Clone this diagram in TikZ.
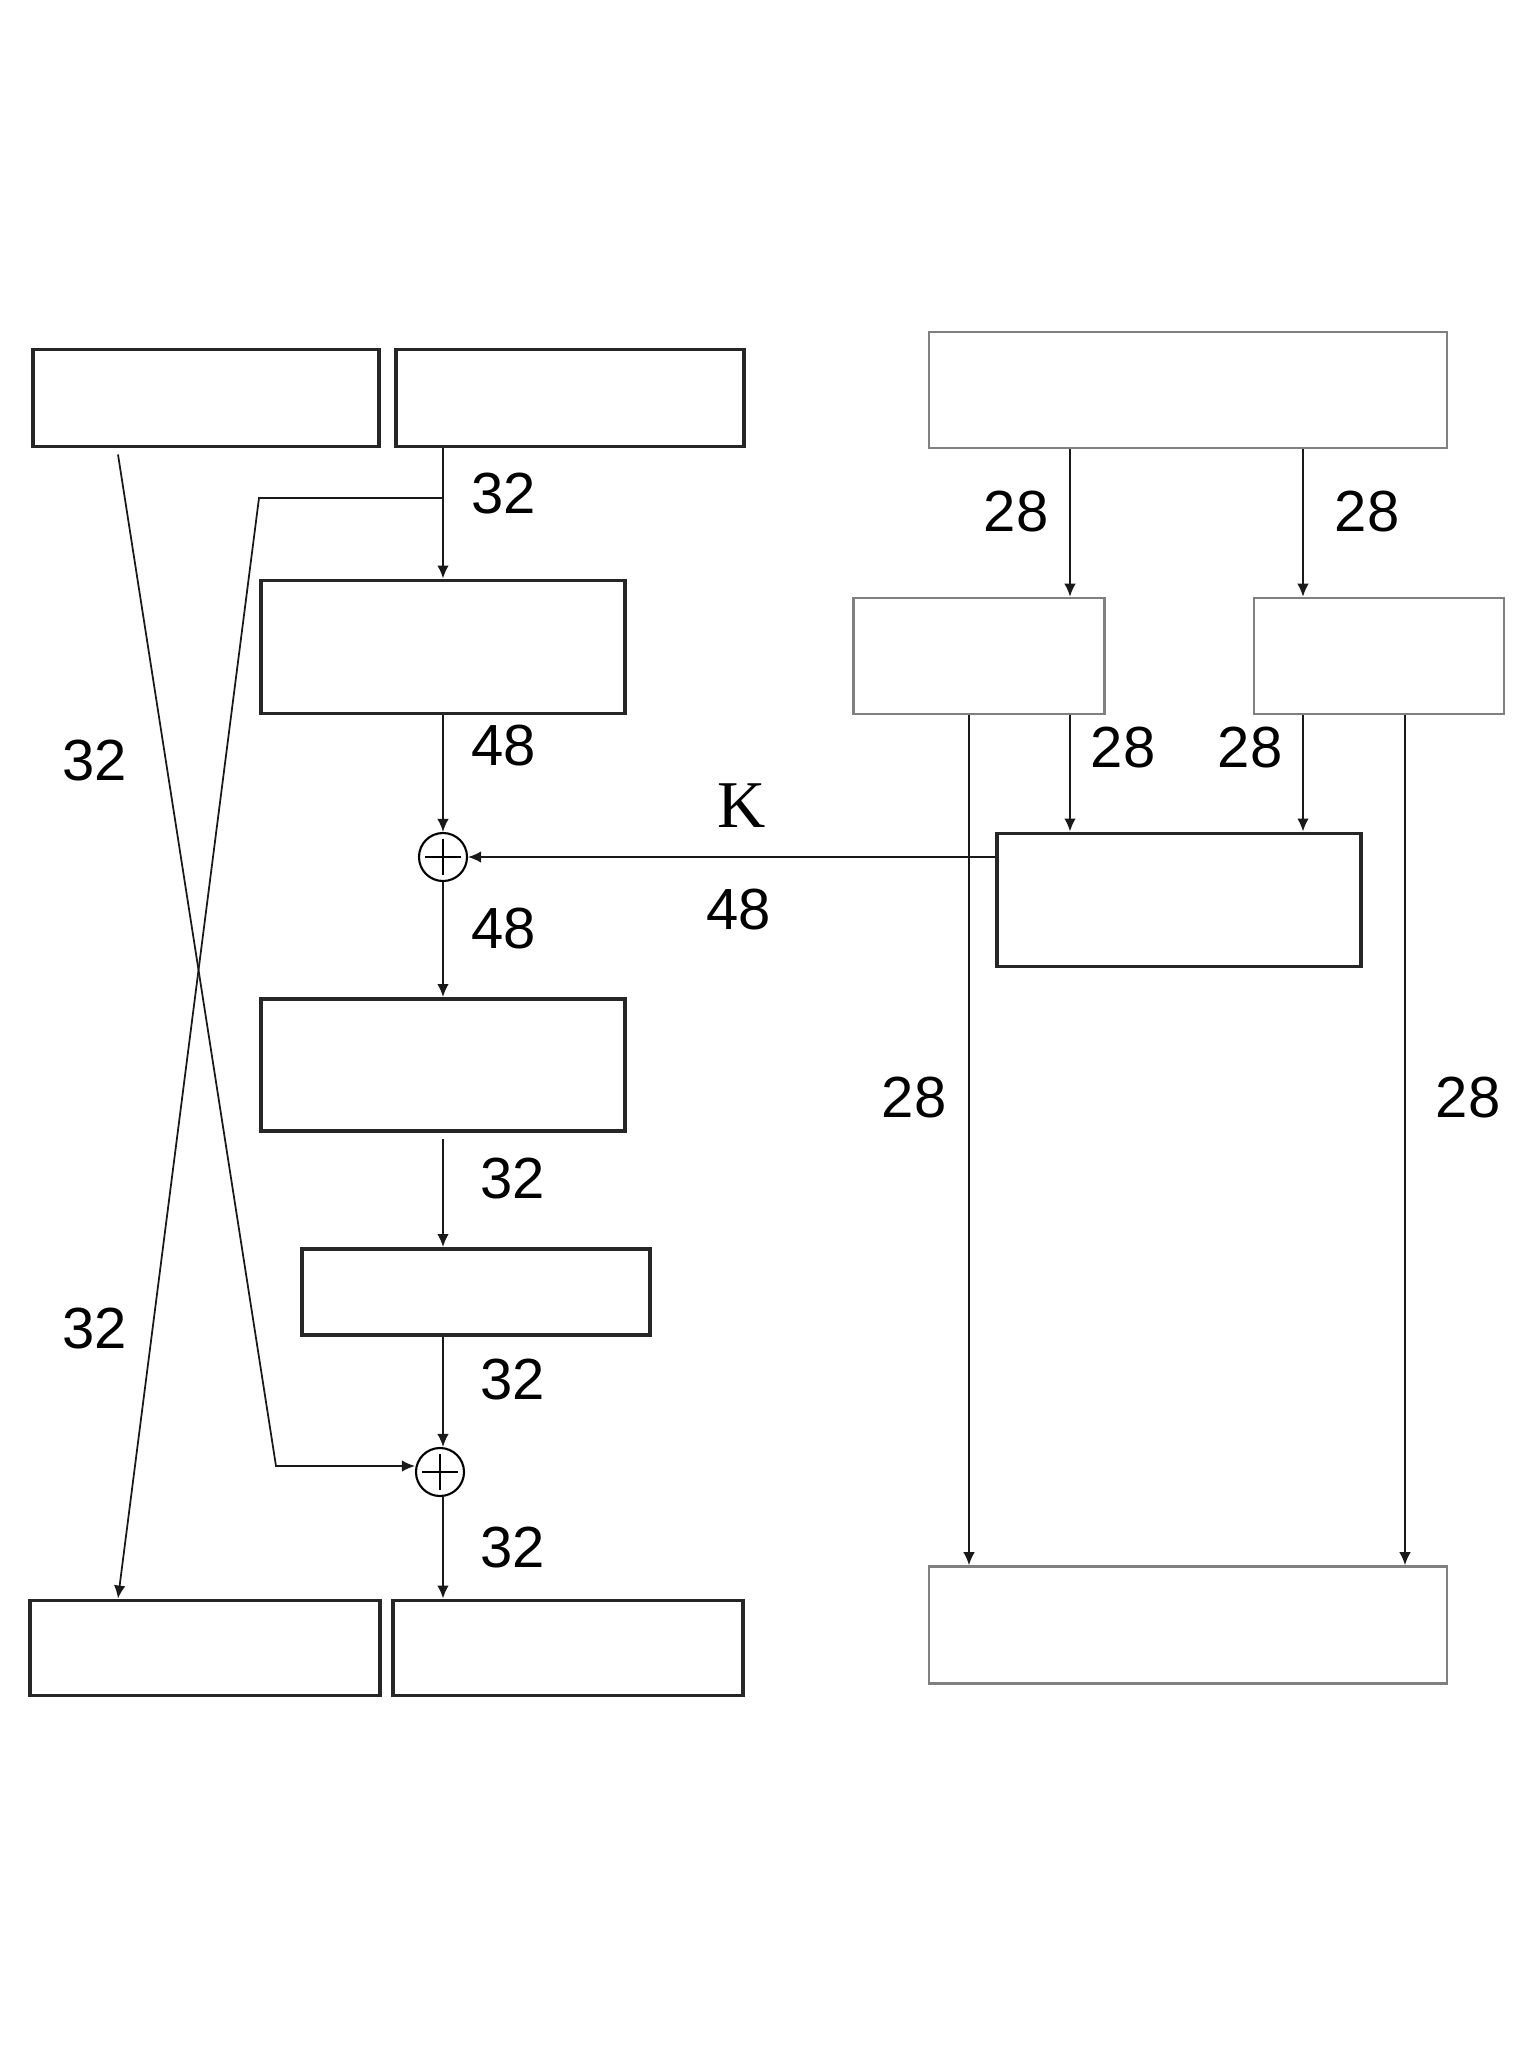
\documentclass[tikz,border=0pt]{standalone}
\usepackage{fontspec}
\setmainfont{Liberation Sans}
\newfontfamily\serifk{Liberation Serif}
\usetikzlibrary{arrows.meta}

\tikzset{
  box/.style={draw=black!85, line width=1.1pt, inner sep=0pt},
  gbox/.style={draw=black!50, line width=0.7pt, inner sep=0pt},
  xor/.style={draw, circle, line width=0.6pt, minimum size=0.48cm, inner sep=0pt,
    path picture={\draw[line width=0.6pt]
      ([yshift=-0.06cm]path picture bounding box.north) -- ([yshift=0.06cm]path picture bounding box.south)
      ([xshift=0.06cm]path picture bounding box.west) -- ([xshift=-0.06cm]path picture bounding box.east);}},
  lab/.style={inner sep=0pt, font=\fontsize{16.5}{18}\selectfont},
  arr/.style={-{Latex[length=1.3mm,width=1.15mm]}, line width=0.5pt, black!90},
}

\begin{document}
\begin{tikzpicture}[x=0.01cm, y=-0.01cm]
\useasboundingbox (0,0) rectangle (1536,2048);
% round function
\node[box, minimum width=3.46cm, minimum height=0.97cm] (l0) at (206,398) {};
\node[box, minimum width=3.47cm, minimum height=0.97cm] (r0) at (570,398) {};
\node[box, minimum width=3.63cm, minimum height=1.33cm] (ex) at (443,647) {};
\node[xor] (x1) at (443,857) {};
\node[box, minimum width=3.63cm, minimum height=1.32cm] (sb) at (443,1065) {};
\node[box, minimum width=3.48cm, minimum height=0.86cm] (pm) at (476,1292) {};
\node[xor] (x2) at (440,1472) {};
\node[box, minimum width=3.49cm, minimum height=0.95cm] (l1) at (205,1648) {};
\node[box, minimum width=3.49cm, minimum height=0.95cm] (r1) at (568,1648) {};
% key schedule
\node[gbox, minimum width=5.18cm, minimum height=1.16cm] (key) at (1188,390) {};
\node[gbox, minimum width=2.51cm, minimum height=1.16cm] (c0) at (979,656) {};
\node[gbox, minimum width=2.50cm, minimum height=1.16cm] (d0) at (1379,656) {};
\node[box, minimum width=3.63cm, minimum height=1.33cm] (pc) at (1179,900) {};
\node[gbox, minimum width=5.18cm, minimum height=1.17cm] (key1) at (1188,1625) {};

\coordinate (sp) at (443,498);
\coordinate (b1) at (259,498);
\coordinate (b2) at (276,1466);
\coordinate (lx) at (118,0);
\coordinate (cx1) at (1070,0);
\coordinate (dx1) at (1303,0);
\coordinate (cx2) at (969,0);
\coordinate (dx2) at (1405,0);

\draw[arr] (ex.north |- r0.south) -- (ex.north);
\draw[arr] (ex.south) -- (x1.north);
\draw[arr] (x1.south) -- (sb.north);
\draw[arr] ([yshift=-0.06cm]sb.south) -- (sb.south |- pm.north);
\draw[arr] (sb.south |- pm.south) -- (sb.south |- x2.north);
\draw[arr] (sb.south |- x2.south) -- (sb.south |- r1.north);
\draw[arr] (sp) -- (b1) -- (lx |- l1.north);
\draw[arr] ([yshift=-0.06cm]lx |- l0.south) -- (b2) -- (x2.west |- b2);

\draw[arr] (cx1 |- key.south) -- (cx1 |- c0.north);
\draw[arr] (dx1 |- key.south) -- (dx1 |- d0.north);
\draw[arr] (cx1 |- c0.south) -- (cx1 |- pc.north);
\draw[arr] (dx1 |- d0.south) -- (dx1 |- pc.north);
\draw[arr] (cx2 |- c0.south) -- (cx2 |- key1.north);
\draw[arr] (dx2 |- d0.south) -- (dx2 |- key1.north);
\draw[arr] (pc.west |- x1) -- (x1.east);

% widths
\node[lab] (t1) at (504,494) {32};
\node[lab] (t2) at (504,746) {48};
\node[lab] (t3) at (504,929) {48};
\node[lab] (t4) at (513,1179) {32};
\node[lab] (t5) at (513,1380) {32};
\node[lab] (t6) at (513,1548) {32};
\node[lab] (t7) at (95,761) {32};
\node[lab] (t8) at (95,1329) {32};
\node[lab, font=\serifk\fontsize{19}{21}\selectfont] (kk) at (742,806) {K};
\node[lab] (t9) at (739,910) {48};
\node[lab] (s1) at (1016,512) {28};
\node[lab] (s2) at (1367,512) {28};
\node[lab] (s3) at (1123,748) {28};
\node[lab] (s4) at (1250,748) {28};
\node[lab] (s5) at (914,1098) {28};
\node[lab] (s6) at (1468,1098) {28};
\end{tikzpicture}
\end{document}
